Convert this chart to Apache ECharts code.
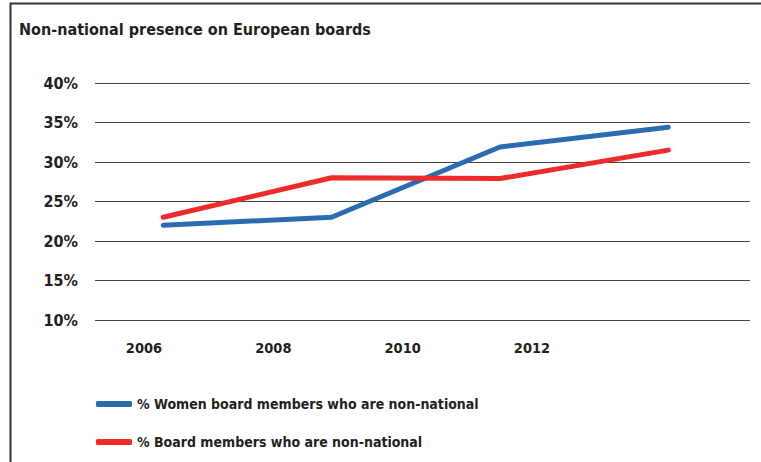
<!DOCTYPE html>
<html>
<head>
<meta charset="utf-8">
<script src="https://cdn.jsdelivr.net/npm/echarts@6/dist/echarts.min.js"></script>
<style>
html,body{margin:0;padding:0;background:#fff;}
#c{width:761px;height:462px;}
</style>
</head>
<body>
<div id="c"></div>
<script>
const years = [2006, 2008, 2010, 2012];
const yearLabels = ['2006', '2008', '2010', '2012'];
const womenNonNational = [22.0, 23.0, 31.9, 34.4];
const boardNonNational = [23.0, 28.0, 27.9, 31.5];
const seriesNames = ['% Women board members who are non-national', '% Board members who are non-national'];
const yTicks = [10, 15, 20, 25, 30, 35, 40];

const FONT = "'DejaVu Sans Condensed', 'Liberation Sans', sans-serif";
const chart = echarts.init(document.getElementById('c'), null, { renderer: 'svg' });

function pairs(xs, ys) { return xs.map((x, i) => [x, ys[i]]); }

chart.setOption({
  animation: false,
  backgroundColor: '#fff',
  title: {
    text: 'Non-national presence on European boards',
    left: 14, top: 16,
    textStyle: { fontFamily: FONT, fontSize: 16, fontWeight: 'bold', color: '#231f20' }
  },
  graphic: [{
    type: 'rect', left: 8, top: 1, z: 10,
    shape: { width: 800, height: 500 },
    style: { fill: 'none', stroke: '#333', lineWidth: 2 }
  }],
  legend: {
    orient: 'vertical', left: 91, top: 392,
    itemWidth: 36, itemHeight: 6, itemGap: 24,
    icon: 'roundRect',
    data: seriesNames,
    textStyle: { fontFamily: FONT, fontSize: 14, fontWeight: 'bold', color: '#231f20' }
  },
  grid: [
    { left: 95, right: 11, top: 83, bottom: 142 },
    { left: 144, right: 229, top: 83, bottom: 142 }
  ],
  xAxis: [
    { type: 'value', gridIndex: 0, min: 2005.19, max: 2012.97, show: false },
    {
      type: 'category', gridIndex: 1, data: yearLabels, boundaryGap: false,
      axisLine: { show: false }, axisTick: { show: false }, splitLine: { show: false },
      axisLabel: { margin: 20, fontFamily: FONT, fontSize: 14.5, fontWeight: 'bold', color: '#231f20' }
    }
  ],
  yAxis: [
    {
      type: 'value', gridIndex: 0, min: yTicks[0], max: yTicks[yTicks.length - 1], interval: 5,
      axisLine: { show: false }, axisTick: { show: false },
      splitLine: { show: true, lineStyle: { color: '#444', width: 1 } },
      axisLabel: { margin: 17, formatter: '{value}%', fontFamily: FONT, fontSize: 16, fontWeight: 'bold', color: '#231f20' }
    },
    { type: 'value', gridIndex: 1, show: false }
  ],
  series: [
    {
      name: seriesNames[0], type: 'line', xAxisIndex: 0, yAxisIndex: 0,
      data: pairs(years, womenNonNational), showSymbol: false, symbol: 'none',
      color: '#2b6cb0',
      lineStyle: { width: 5, color: '#2b6cb0', cap: 'round', join: 'round' }
    },
    {
      name: seriesNames[1], type: 'line', xAxisIndex: 0, yAxisIndex: 0,
      data: pairs(years, boardNonNational), showSymbol: false, symbol: 'none',
      color: '#ee2a2a',
      lineStyle: { width: 5, color: '#ee2a2a', cap: 'round', join: 'round' }
    }
  ]
});
</script>
</body>
</html>
